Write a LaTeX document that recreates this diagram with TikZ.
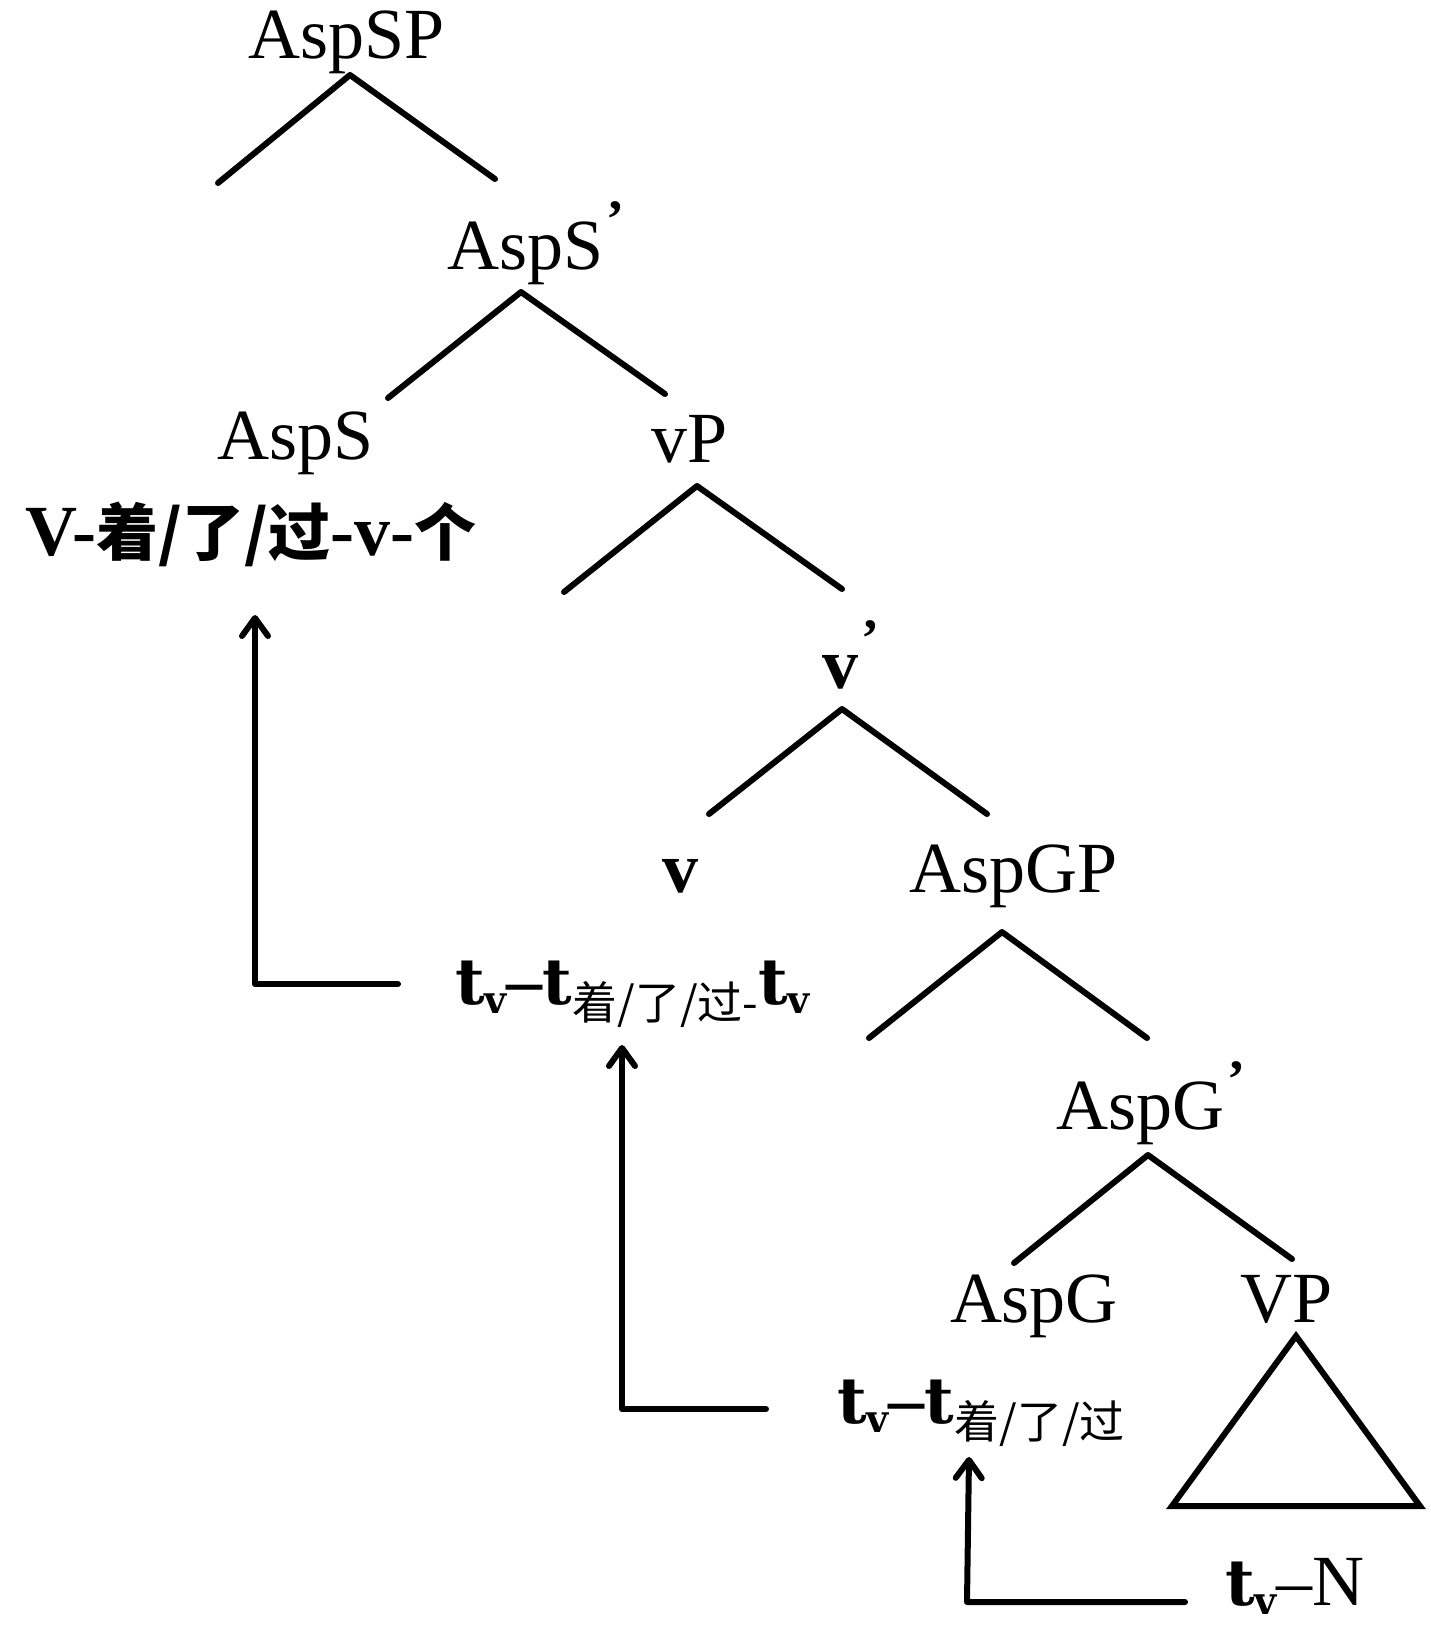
\documentclass[tikz,border=0pt]{standalone}
\usepackage{fontspec}
\setmainfont{Liberation Serif}
\newfontfamily\cjk{Noto Sans CJK SC}
\newfontfamily\tfont{DejaVu Serif}
\usetikzlibrary{arrows.meta}
\newcommand{\tvtrace}{{\tfont\bfseries\fontsize{64}{64}\selectfont t\raisebox{-9pt}{\fontsize{38}{38}\selectfont v}}}
\newcommand{\tbold}{{\tfont\bfseries\fontsize{64}{64}\selectfont t}}
\newcommand{\subcjk}[1]{\raisebox{-15pt}{\cjk\fontsize{45}{45}\selectfont #1}}
\newcommand{\primemark}{\kern3pt\raisebox{32pt}{\bfseries\fontsize{54}{54}\selectfont ’}}
\begin{document}
\begin{tikzpicture}[x=1pt,y=-1pt,
  lab/.style={anchor=base, inner sep=0pt, font=\fontsize{72}{80}\selectfont},
  trace/.style={anchor=base west, inner sep=0pt, font=\fontsize{72}{80}\selectfont},
  branch/.style={line width=6pt, line cap=round, line join=round},
  movearrow/.style={line width=6pt, line cap=round, line join=round, -{Straight Barb[length=18pt,width=26pt,round]}}]
\useasboundingbox (0,0) rectangle (1431,1634);

% labels
\node[lab] (aspsp) at (347,58) {AspSP};
\node[lab] (aspsbar) at (536,269) {AspS\primemark};
\node[lab] (asps) at (296,459) {AspS};
\node[lab] (vform) at (251,555) {\bfseries V-{\cjk\bfseries\fontsize{62}{62}\selectfont 着/了/过}-v-{\cjk\bfseries\fontsize{62}{62}\selectfont 个}};
\node[lab] (vp) at (690,462) {vP};
\node[lab] (vbar) at (851,688) {\bfseries v\primemark};
\node[lab] (v) at (680,892) {\bfseries v};
\node[lab] (aspgp) at (1014,892) {AspGP};
\node[lab] (aspgbar) at (1151,1129) {AspG\primemark};
\node[lab] (aspg) at (1034,1322) {AspG};
\node[lab] (VP) at (1287,1322) {VP};
\node[trace] (t1) at (455,1004) {\tvtrace{\bfseries –}\tbold\subcjk{着/了/过-}\tvtrace};
\node[trace] (t2) at (837,1423) {\tvtrace{\bfseries –}\tbold\subcjk{着/了/过}};
\node[trace] (t3) at (1225,1605) {\tvtrace–N};

% branch coordinates
\coordinate (a1) at (350,75);  \coordinate (l1) at (218,183);  \coordinate (r1) at (495,179);
\coordinate (a2) at (521,292); \coordinate (l2) at (388,398);  \coordinate (r2) at (665,394);
\coordinate (a3) at (697,486); \coordinate (l3) at (564,592);  \coordinate (r3) at (842,589);
\coordinate (a4) at (842,709); \coordinate (l4) at (709,814);  \coordinate (r4) at (987,814);
\coordinate (a5) at (1002,932); \coordinate (l5) at (869,1038); \coordinate (r5) at (1147,1038);
\coordinate (a6) at (1148,1155); \coordinate (l6) at (1014,1263); \coordinate (r6) at (1292,1259);
\coordinate (ta) at (1296,1336); \coordinate (tl) at (1172,1506); \coordinate (tr) at (1420,1506);

\foreach \i in {1,...,6} {\draw[branch] (l\i) -- (a\i) -- (r\i);}
\draw[branch, line join=miter] (ta) -- (tl) -- (tr) -- cycle;

% movement arrows
\coordinate (m1s) at (398,984);  \coordinate (m1c) at (255,984);  \coordinate (m1e) at (255,615);
\coordinate (m2s) at (766,1409); \coordinate (m2c) at (622,1409); \coordinate (m2e) at (622,1045);
\coordinate (m3s) at (1185,1602); \coordinate (m3c) at (967,1602); \coordinate (m3e) at (969,1457);
\draw[movearrow] (m1s) -- (m1c) -- (m1e);
\draw[movearrow] (m2s) -- (m2c) -- (m2e);
\draw[movearrow] (m3s) -- (m3c) -- (m3e);
\end{tikzpicture}
\end{document}
